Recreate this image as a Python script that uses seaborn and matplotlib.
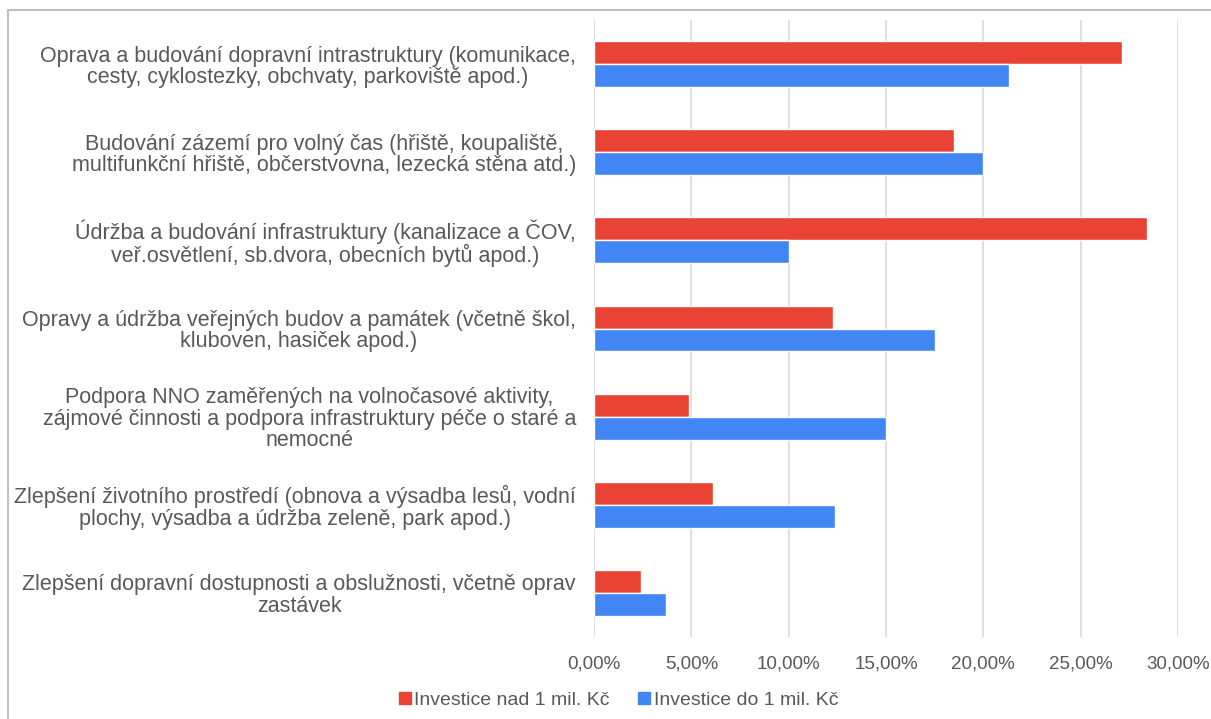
import pandas as pd
import matplotlib
matplotlib.use('Agg')
import matplotlib.pyplot as plt
import seaborn as sns
from matplotlib.ticker import FuncFormatter
from matplotlib.lines import Line2D

categories = [
    'Oprava a budování dopravní intrastruktury (komunikace,\ncesty, cyklostezky, obchvaty, parkoviště apod.)',
    'Budování zázemí pro volný čas (hřiště, koupaliště,\nmultifunkční hřiště, občerstvovna, lezecká stěna atd.)',
    'Údržba a budování infrastruktury (kanalizace a ČOV,\nveř.osvětlení, sb.dvora, obecních bytů apod.)',
    'Opravy a údržba veřejných budov a památek (včetně škol,\nkluboven, hasiček apod.)',
    'Podpora NNO zaměřených na volnočasové aktivity,\nzájmové činnosti a podpora infrastruktury péče o staré a\nnemocné',
    'Zlepšení životního prostředí (obnova a výsadba lesů, vodní\nplochy, výsadba a údržba zeleně, park apod.)',
    'Zlepšení dopravní dostupnosti a obslužnosti, včetně oprav\nzastávek',
]
series = ['Investice nad 1 mil. Kč', 'Investice do 1 mil. Kč']
nad_1mil = [0.271, 0.185, 0.284, 0.123, 0.049, 0.061, 0.024]
do_1mil = [0.213, 0.200, 0.100, 0.175, 0.150, 0.124, 0.037]
colors = ['#EA4335', '#4285F4']

df = pd.DataFrame({
    'kategorie': categories * 2,
    'hodnota': nad_1mil + do_1mil,
    'serie': [series[0]] * len(categories) + [series[1]] * len(categories),
})

sns.set_style('white')
plt.rcParams['font.family'] = ['Liberation Sans', 'DejaVu Sans']

fig = plt.figure(figsize=(12.11, 7.19), dpi=100)
ax = fig.add_axes([594 / 1211, 1 - 637 / 719, (1178 - 594) / 1211, (637 - 20) / 719])

sns.barplot(data=df, x='hodnota', y='kategorie', hue='serie', orient='h',
            palette=colors, width=0.52, ax=ax, legend=False, saturation=1)

ax.set_xlim(0, 0.30)
ax.set_xticks([0, 0.05, 0.10, 0.15, 0.20, 0.25, 0.30])
ax.xaxis.set_major_formatter(FuncFormatter(lambda v, p: f'{v * 100:.2f}%'.replace('.', ',')))
ax.grid(axis='x', color='#d9d9d9', linewidth=1.2)
ax.set_axisbelow(True)
for s in ax.spines.values():
    s.set_visible(False)
ax.set_xlabel('')
ax.set_ylabel('')
ax.tick_params(axis='both', length=0, labelcolor='#595959')
ax.tick_params(axis='x', pad=13, labelsize=13.5)
ax.tick_params(axis='y', pad=13, labelsize=15.5)
for lbl in ax.get_yticklabels():
    lbl.set_multialignment('center')
    lbl.set_linespacing(1.02)

handles = [Line2D([], [], marker='s', linestyle='', markersize=8, color=c) for c in colors]
fig.legend(handles, series, loc='center', bbox_to_anchor=(0.510, 0.026), ncol=2,
           frameon=False, fontsize=14, labelcolor='#595959', handlelength=0.8,
           handletextpad=0.1, columnspacing=1.35)

# frame of the original chart (left and top edges)
fig.add_artist(Line2D([8 / 1211, 8 / 1211], [0, 1 - 10 / 719], color='#bfbfbf', linewidth=1.5,
                      transform=fig.transFigure))
fig.add_artist(Line2D([8 / 1211, 1], [1 - 10 / 719, 1 - 10 / 719], color='#bfbfbf', linewidth=1.5,
                      transform=fig.transFigure))

fig.savefig('out.png', dpi=100)
